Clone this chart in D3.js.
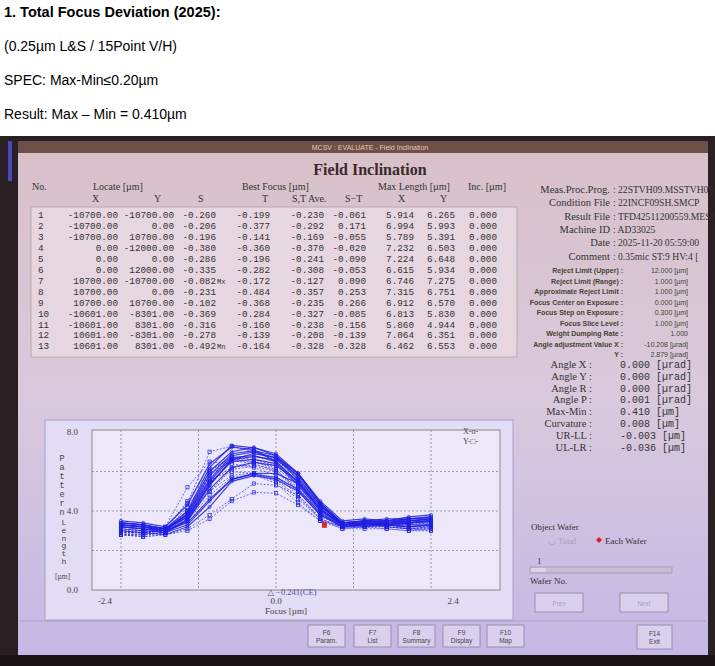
<!DOCTYPE html>
<html><head><meta charset="utf-8">
<script src="https://cdn.jsdelivr.net/npm/d3@7"></script>
<style>body{margin:0;background:#fff}svg{display:block}</style>
</head><body><svg id="c" width="715" height="666"></svg>
<script>
const focusTicks = ["-2.4","0.0","2.4"];
const lengthTicks = ["0.0","4.0","8.0"];
const focusPoints = d3.range(15).map(i => -2.4 + i * 4.8 / 14);
const seriesX = [
[3.3,3.2,3.0,3.4,4.6,5.6,5.91,5.9,5.4,4.1,3.3,3.4,3.3,3.4,3.5],
[3.4,3.3,3.1,3.8,5.6,6.8,6.99,6.7,5.6,4.3,3.3,3.5,3.4,3.5,3.6],
[3.0,2.9,2.8,3.2,4.2,5.5,5.79,5.6,5.0,3.8,3.2,3.3,3.3,3.2,3.3],
[3.5,3.4,3.2,4.3,6.4,7.23,7.1,6.5,5.5,4.2,3.4,3.5,3.6,3.6,3.7],
[3.3,3.2,3.0,3.9,6.0,7.0,7.22,6.8,5.7,4.3,3.3,3.4,3.4,3.5,3.5],
[3.2,3.1,2.9,3.6,5.4,6.5,6.62,6.4,5.3,4.0,3.3,3.3,3.4,3.4,3.4],
[3.3,3.2,3.1,3.7,5.3,6.6,6.75,6.6,5.8,4.4,3.4,3.5,3.4,3.6,3.6],
[3.4,3.3,3.1,4.0,6.2,7.32,7.2,6.9,5.9,4.5,3.5,3.6,3.5,3.7,3.8],
[3.2,3.1,3.0,3.5,5.3,6.6,6.91,6.7,5.9,4.4,3.3,3.4,3.5,3.5,3.6],
[3.3,3.2,3.0,3.7,5.5,6.7,6.81,6.5,5.4,4.1,3.3,3.4,3.3,3.4,3.5],
[3.1,3.0,2.9,3.3,4.5,5.6,5.86,5.7,5.1,3.9,3.2,3.2,3.3,3.3,3.3],
[3.4,3.3,3.1,3.8,5.8,6.9,7.06,6.8,5.9,4.4,3.4,3.5,3.5,3.6,3.7],
[3.2,3.1,2.9,3.5,5.1,6.2,6.46,6.3,5.5,4.1,3.3,3.3,3.4,3.4,3.5]];
const seriesY = [
[2.8,2.8,2.9,3.6,5.0,6.1,6.27,6.0,5.2,3.9,3.3,3.4,3.3,3.1,3.2],
[2.9,2.9,3.0,4.0,5.6,5.99,5.9,5.5,4.6,3.6,3.2,3.3,3.2,3.1,3.0],
[2.8,2.7,2.8,3.1,3.8,4.6,5.39,5.3,4.8,3.6,3.1,3.2,3.1,3.0,3.1],
[3.0,3.0,3.2,5.2,6.50,6.4,6.2,5.8,4.8,3.7,3.3,3.3,3.3,3.2,3.2],
[2.9,2.9,3.0,4.5,6.1,6.65,6.5,6.1,5.0,3.8,3.3,3.4,3.3,3.2,3.3],
[2.8,2.8,2.9,3.7,5.0,5.8,5.93,5.6,4.7,3.6,3.2,3.3,3.2,3.1,3.1],
[3.1,3.0,3.2,4.4,7.0,7.28,7.0,6.6,5.6,4.2,3.4,3.4,3.4,3.3,3.4],
[3.0,2.9,3.1,3.8,6.0,6.75,6.6,6.3,5.5,4.0,3.3,3.4,3.3,3.2,3.3],
[2.9,2.9,3.0,4.2,5.9,6.57,6.5,6.2,5.3,3.9,3.3,3.3,3.3,3.2,3.2],
[2.8,2.8,2.9,3.5,4.8,5.7,5.83,5.4,4.4,3.5,3.2,3.2,3.2,3.1,3.1],
[2.8,2.7,2.8,3.0,3.6,4.5,4.94,4.9,4.3,3.5,3.1,3.1,3.1,3.0,3.0],
[2.9,2.9,3.0,3.9,5.5,6.2,6.35,6.1,5.1,3.8,3.2,3.3,3.2,3.1,3.2],
[3.0,2.9,3.1,4.0,5.8,6.55,6.4,6.0,5.0,3.8,3.3,3.3,3.3,3.2,3.3]];
const ceMarker = [0.75, 3.3];
const tableRows = [
["1","-10700.00","-10700.00","-0.260","","-0.199","-0.230","-0.061","5.914","6.265","0.000"],
["2","-10700.00","0.00","-0.206","","-0.377","-0.292","0.171","6.994","5.993","0.000"],
["3","-10700.00","10700.00","-0.196","","-0.141","-0.169","-0.055","5.789","5.391","0.000"],
["4","0.00","-12000.00","-0.380","","-0.360","-0.370","-0.020","7.232","6.503","0.000"],
["5","0.00","0.00","-0.286","","-0.196","-0.241","-0.090","7.224","6.648","0.000"],
["6","0.00","12000.00","-0.335","","-0.282","-0.308","-0.053","6.615","5.934","0.000"],
["7","10700.00","-10700.00","-0.082","Mx","-0.172","-0.127","0.090","6.746","7.275","0.000"],
["8","10700.00","0.00","-0.231","","-0.484","-0.357","0.253","7.315","6.751","0.000"],
["9","10700.00","10700.00","-0.102","","-0.368","-0.235","0.266","6.912","6.570","0.000"],
["10","-10601.00","-8301.00","-0.369","","-0.284","-0.327","-0.085","6.813","5.830","0.000"],
["11","-10601.00","8301.00","-0.316","","-0.160","-0.238","-0.156","5.860","4.944","0.000"],
["12","10601.00","-8301.00","-0.278","","-0.139","-0.208","-0.139","7.064","6.351","0.000"],
["13","10601.00","8301.00","-0.492","Mn","-0.164","-0.328","-0.328","6.462","6.553","0.000"]];
const infoTop = [["Meas.Proc.Prog.","22STVH09.MSSTVH09"],["Condition File","22INCF09SH.SMCP"],["Result File","TFD42511200559.MESI"],["Machine ID","AD33025"],["Date","2025-11-20 05:59:00"],["Comment","0.35mic ST:9 HV:4 ["]];
const infoMid = [["Reject Limit (Upper) :","12.000 [µm]"],["Reject Limit (Range) :","1.000 [µm]"],["Approximate Reject Limit :","1.000 [µm]"],["Focus Center on Exposure :","0.000 [µm]"],["Focus Step on Exposure :","0.300 [µm]"],["Focus Slice Level :","1.000 [µm]"],["Weight Dumping Rate :","1.000"],["Angle adjustment Value X :","-10.208 [µrad]"],["Y :","2.879 [µrad]"]];
const infoBot = [["Angle X :","0.000 [µrad]"],["Angle Y :","0.000 [µrad]"],["Angle R :","0.000 [µrad]"],["Angle P :","0.001 [µrad]"],["Max-Min :","0.410 [µm]"],["Curvature :","0.008 [µm]"],["UR-LL :","-0.003 [µm]"],["UL-LR :","-0.036 [µm]"]];

const svg = d3.select("#c");
const defs = svg.append("defs");
const g1 = defs.append("linearGradient").attr("id","scr").attr("x1",0).attr("y1",0).attr("x2",0).attr("y2",1);
g1.append("stop").attr("offset","0").attr("stop-color","#d8c0c8");
g1.append("stop").attr("offset","0.5").attr("stop-color","#d9c9dc");
g1.append("stop").attr("offset","1").attr("stop-color","#c4b8e6");

const hf = "Liberation Sans, Arial, sans-serif";
const serif = "Liberation Serif, DejaVu Serif, serif";
const mono = "Liberation Mono, DejaVu Sans Mono, monospace";
function txt(x0,y0,s,fam,size,fill,anchor){return svg.append("text").attr("x",x0).attr("y",y0).attr("font-family",fam).attr("font-size",size).attr("fill",fill||"#333").attr("text-anchor",anchor||"start").text(s);}

txt(4,17,"1. Total Focus Deviation (2025):",hf,14.5,"#000").attr("font-weight","bold");
txt(4,51,"(0.25µm L&S / 15Point V/H)",hf,14,"#000");
txt(4,85,"SPEC: Max-Min≤0.20µm",hf,14,"#000");
txt(4,119,"Result: Max – Min = 0.410µm",hf,14,"#000");

svg.append("rect").attr("x",0).attr("y",136).attr("width",715).attr("height",530).attr("fill","#2a2024");
svg.append("rect").attr("x",18).attr("y",141).attr("width",690).attr("height",514).attr("fill","url(#scr)");
svg.append("rect").attr("x",18).attr("y",141).attr("width",690).attr("height",12).attr("fill","#6e5048");
txt(370,150,"MCSV : EVALUATE - Field Inclination",hf,7,"#e8c8b0","middle");
svg.append("rect").attr("x",8).attr("y",141).attr("width",4).attr("height",40).attr("fill","#4848c0");

txt(370,175,"Field Inclination",serif,16,"#3a2a2a","middle").attr("font-weight","bold");

const hdr = [["No.",32,190],["Locate [µm]",93,190],["Best  Focus [µm]",242,190],["Max  Length [µm]",378,190],["Inc. [µm]",468,190],
 ["X",92,202],["Y",154,202],["S",198,202],["T",262,202],["S,T  Ave.",292,202],["S−T",345,202],["X",398,202],["Y",440,202]];
hdr.forEach(d=>txt(d[1],d[2],d[0],serif,10));
svg.append("rect").attr("x",31).attr("y",207).attr("width",486).attr("height",150).attr("fill","#e6d6e0").attr("stroke","#b8a8b0");
const colX = [[38,"start"],[118,"end"],[174,"end"],[216,"end"],[217,"start"],[270,"end"],[324,"end"],[366,"end"],[414,"end"],[455,"end"],[497,"end"]];
tableRows.forEach((r,i)=>r.forEach((c,j)=>txt(colX[j][0],218+i*10.95,c,mono,j==4?7:9.3,"#333",colX[j][1])));

infoTop.forEach((d,i)=>{const yy=193+i*13.3;
 txt(610,yy,d[0],serif,10.5,"#333","end");
 txt(613,yy,": "+d[1],serif,9.6);});
infoMid.forEach((d,i)=>{const yy=273+i*10.5;
 txt(623,yy,d[0],hf,7,"#443","end").attr("font-weight","bold");
 txt(688,yy,d[1],hf,7,"#443","end");});
infoBot.forEach((d,i)=>{const yy=368+i*11.8;
 txt(592,yy,d[0],serif,10.5,"#333","end");
 txt(620,yy,d[1],mono,10);});

svg.append("rect").attr("x",45).attr("y",420).attr("width",468).attr("height",200).attr("fill","#e2dcf4").attr("stroke","#a8a0c8");
const x = d3.scaleLinear().domain([-2.4,2.4]).range([121,431]);
const y = d3.scaleLinear().domain([0,8]).range([590,432]);
svg.append("rect").attr("x",92).attr("y",430).attr("width",408).attr("height",160).attr("fill","#ece8fa").attr("stroke","#888");
const gridX=[-2.4,-1.2,0,1.2,2.4], gridY=[2,4,6];
svg.selectAll(".gx").data(gridX).join("line").attr("x1",d=>x(d)).attr("x2",d=>x(d)).attr("y1",430).attr("y2",590).attr("stroke","#777").attr("stroke-dasharray","2,2").attr("stroke-width",0.7);
svg.selectAll(".gy").data(gridY).join("line").attr("x1",92).attr("x2",500).attr("y1",d=>y(d)).attr("y2",d=>y(d)).attr("stroke","#777").attr("stroke-dasharray","2,2").attr("stroke-width",0.7);
lengthTicks.forEach(t=>txt(78,y(+t)+3,t,serif,9,"#444","end"));
const fx = [105,276,453];
focusTicks.forEach((t,i)=>txt(fx[i],604,t,serif,9,"#444","middle"));
txt(286,614,"Focus  [µm]",serif,9,"#444","middle");
txt(292,595,"△ −0.241(CE)",serif,8.5,"#5050a0","middle");
"Pattern".split("").forEach((c,i)=>txt(62,461+i*9,c,mono,8.5,"#444","middle"));
"Length".split("").forEach((c,i)=>txt(64,525+i*7.8,c,mono,8,"#444","middle"));
txt(55,579,"[µm]",serif,7.5,"#444");
txt(463,434,"X-o-",serif,8,"#444");
txt(463,444,"Y-□-",serif,8,"#444");

const line = d3.line().x((d,i)=>x(focusPoints[i])).y(d=>y(d));
const col = "#2020e0";
seriesY.forEach(s=>{
 svg.append("path").attr("d",line(s)).attr("fill","none").attr("stroke",col).attr("stroke-width",0.8).attr("stroke-dasharray","2,1.5").attr("opacity",0.8);
 svg.append("g").selectAll("rect").data(s).join("rect").attr("x",(d,i)=>x(focusPoints[i])-1.6).attr("y",d=>y(d)-1.6).attr("width",3.2).attr("height",3.2).attr("fill","none").attr("stroke",col).attr("stroke-width",0.7);
});
seriesX.forEach(s=>{
 svg.append("path").attr("d",line(s)).attr("fill","none").attr("stroke",col).attr("stroke-width",1.2).attr("opacity",0.85);
 svg.append("g").selectAll("circle").data(s).join("circle").attr("cx",(d,i)=>x(focusPoints[i])).attr("cy",d=>y(d)).attr("r",1.6).attr("fill","none").attr("stroke",col).attr("stroke-width",0.7);
});
svg.append("rect").attr("x",x(ceMarker[0])-2.5).attr("y",y(ceMarker[1])-3).attr("width",5).attr("height",6).attr("fill","#d03030");

txt(531,530,"Object  Wafer",serif,9);
txt(548,544,"◡ Total",serif,9,"#a8a0b8");
txt(605,544,"Each  Wafer",serif,9);
svg.append("path").attr("d","M599,537 l3,3 l-3,3 l-3,-3z").attr("fill","#e02020");
txt(537,564,"1",serif,9);
svg.append("rect").attr("x",530).attr("y",567).attr("width",142).attr("height",6).attr("fill","#c8bcd8").attr("stroke","#a8a0b8");
svg.append("rect").attr("x",531).attr("y",568).attr("width",15).attr("height",4).attr("fill","#ddd4e8");
txt(530,584,"Wafer  No.",serif,9);
function btn(x0,y0,w,h,l1,l2,c){
 svg.append("rect").attr("x",x0).attr("y",y0).attr("width",w).attr("height",h).attr("fill","#d8d0ec").attr("stroke","#9890b0");
 txt(x0+w/2,l2?y0+h/2-1:y0+h/2+3,l1,hf,6.5,c,"middle");
 if(l2) txt(x0+w/2,y0+h/2+7,l2,hf,6.5,c,"middle");}
btn(535,593,48,19,"Prev",null,"#a8a0c0");
btn(620,593,48,19,"Next",null,"#a8a0c0");
svg.append("line").attr("x1",20).attr("x2",706).attr("y1",621).attr("y2",621).attr("stroke","#a8a0c0");
[["F6","Param.",308],["F7","List",354],["F8","Summary",398],["F9","Display",443],["F10","Map",487]].forEach(d=>btn(d[2],625,37,22,d[0],d[1],"#444"));
btn(637,625,35,24,"F14","Exit","#444");
svg.append("rect").attr("x",0).attr("y",655).attr("width",715).attr("height",11).attr("fill","#1a1416");
</script></body></html>
